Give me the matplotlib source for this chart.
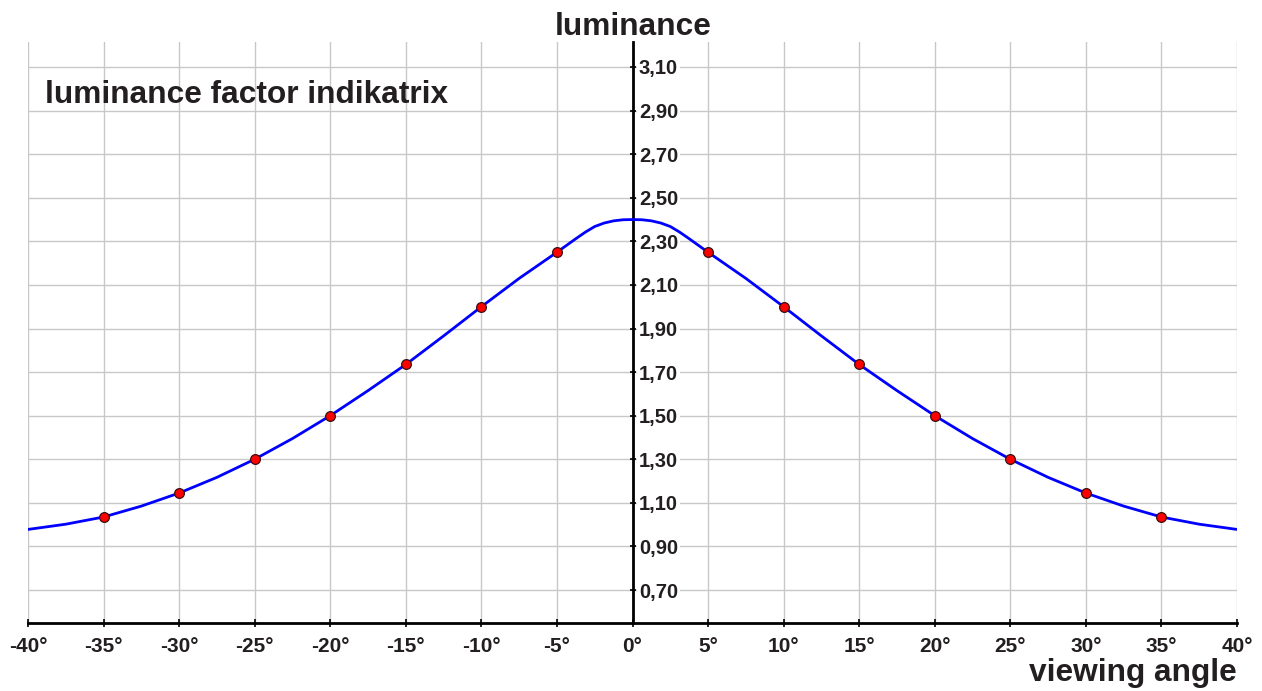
import numpy as np
import matplotlib
matplotlib.use("Agg")
import matplotlib.pyplot as plt

plt.rcParams['font.family'] = ['Liberation Sans', 'DejaVu Sans']

# curve (symmetric around 0)
curve_angle = [-40, -37.5, -35, -32.5, -30, -27.5, -25, -22.5, -20, -17.5, -15, -12.5,
               -10, -7.5, -5, -3.75, -3.125, -2.5, -1.875, -1.25, -0.625, 0,
               0.625, 1.25, 1.875, 2.5, 3.125, 3.75, 5, 7.5, 10,
               12.5, 15, 17.5, 20, 22.5, 25, 27.5, 30, 32.5, 35, 37.5, 40]
curve_lum = [0.978, 1.002, 1.035, 1.085, 1.145, 1.217, 1.30, 1.395, 1.50, 1.615, 1.735, 1.866,
             2.00, 2.13, 2.25, 2.312, 2.342, 2.368, 2.384, 2.394, 2.399, 2.40,
             2.399, 2.394, 2.384, 2.368, 2.342, 2.312, 2.25, 2.13, 2.00,
             1.866, 1.735, 1.615, 1.50, 1.395, 1.30, 1.217, 1.145, 1.085, 1.035, 1.002, 0.978]

# measured points
point_angle = [-35, -30, -25, -20, -15, -10, -5, 5, 10, 15, 20, 25, 30, 35]
point_lum = [1.035, 1.145, 1.30, 1.50, 1.735, 2.00, 2.25, 2.25, 2.00, 1.735, 1.50, 1.30, 1.145, 1.035]

x_ticks = list(range(-40, 45, 5))
y_ticks = [0.70, 0.90, 1.10, 1.30, 1.50, 1.70, 1.90, 2.10, 2.30, 2.50, 2.70, 2.90, 3.10]

txt = '#231f20'

fig = plt.figure(figsize=(12.62, 6.91), dpi=100)
ax = fig.add_axes([28 / 1262, 1 - 623 / 691, (1237 - 28) / 1262, (623 - 42) / 691])

ax.plot(curve_angle, curve_lum, color='#0000ff', lw=2.0, zorder=3, solid_joinstyle='round')
ax.plot(point_angle, point_lum, 'o', ms=7, mfc='#ff0000', mec='#3a1010', mew=0.9, zorder=4)

ax.set_xlim(-40, 40)
ax.set_ylim(0.5486, 3.2147)

ax.set_xticks(x_ticks)
ax.set_xticklabels([f'{v}°' for v in x_ticks])
ax.set_yticks(y_ticks)
ax.set_yticklabels([f'{v:.2f}'.replace('.', ',') for v in y_ticks])

ax.grid(True, color='#c8c8c8', lw=1.0, zorder=0)
ax.set_axisbelow(True)

ax.spines['left'].set_visible(False)
ax.spines['top'].set_visible(False)
ax.spines['right'].set_position(('data', 0))
ax.spines['right'].set_linewidth(2)
ax.spines['right'].set_color('black')
ax.spines['bottom'].set_linewidth(2)
ax.spines['bottom'].set_color('black')

ax.yaxis.set_ticks_position('right')
ax.tick_params(axis='y', direction='inout', length=5, width=1.2, pad=2,
               labelsize=14.5, labelcolor=txt, color='black')
ax.tick_params(axis='x', direction='inout', length=6, width=1.2, pad=7,
               labelsize=15, labelcolor=txt, color='black')
for lbl in ax.get_yticklabels() + ax.get_xticklabels():
    lbl.set_fontweight('bold')
for lbl in ax.get_yticklabels():
    lbl.set_bbox(dict(facecolor='white', edgecolor='none', pad=1.5))

fig.text(633 / 1262, 1 - 35 / 691, 'luminance', ha='center', va='baseline',
         fontsize=22.8, fontweight='bold', color=txt)
fig.text(1237 / 1262, 1 - 681 / 691, 'viewing angle', ha='right', va='baseline',
         fontsize=22.8, fontweight='bold', color=txt)
fig.text(45 / 1262, 1 - 102.7 / 691, 'luminance factor indikatrix', ha='left', va='baseline',
         fontsize=22.8, fontweight='bold', color=txt)

fig.savefig('out.png', dpi=100)
